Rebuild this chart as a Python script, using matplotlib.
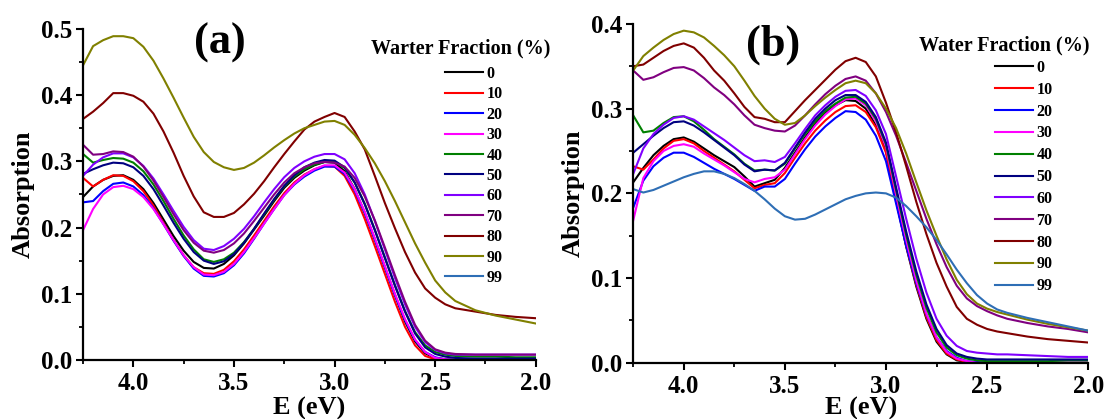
import matplotlib
matplotlib.use("Agg")
import matplotlib.pyplot as plt
from matplotlib.ticker import MultipleLocator, FormatStrFormatter

font = {'family': 'Liberation Serif',
        'weight': 'bold',
        'size': 18}
plt.rc('font', **font)

# photon energy (eV), shared by every curve
energy = [4.25, 4.20, 4.15, 4.10, 4.05, 4.00, 3.95, 3.90, 3.85, 3.80,
          3.75, 3.70, 3.65, 3.60, 3.55, 3.50, 3.45, 3.40, 3.35, 3.30,
          3.25, 3.20, 3.15, 3.10, 3.05, 3.00, 2.95, 2.90, 2.85, 2.80,
          2.75, 2.70, 2.65, 2.60, 2.55, 2.50, 2.45, 2.40,
          2.30, 2.20, 2.10, 2.00]

fractions = ['0', '10', '20', '30', '40', '50', '60', '70', '80', '90', '99']
colors = ['black', '#FF0000', '#0000FF', '#FF00FF', '#008000', '#000080',
          '#8000FF', '#800080', '#800000', '#808000', '#2E6EB5']

# ---- panel (a) ----
a_0 = [0.246, 0.262, 0.272, 0.278, 0.279, 0.272, 0.258, 0.237, 0.212, 0.187,
       0.165, 0.148, 0.139, 0.138, 0.145, 0.158, 0.176, 0.197, 0.218, 0.240,
       0.260, 0.275, 0.286, 0.294, 0.299, 0.298, 0.285, 0.258, 0.222, 0.182,
       0.140, 0.098, 0.058, 0.028, 0.010, 0.003, 0.001, 0.000,
       0.000, 0.000, 0.000, 0.000]
a_10 = [0.275, 0.262, 0.272, 0.279, 0.278, 0.270, 0.255, 0.233, 0.207, 0.181,
        0.158, 0.140, 0.131, 0.130, 0.136, 0.149, 0.167, 0.188, 0.210, 0.232,
        0.252, 0.268, 0.280, 0.288, 0.293, 0.292, 0.278, 0.250, 0.213, 0.172,
        0.130, 0.088, 0.050, 0.022, 0.006, 0.001, 0.000, 0.000,
        0.000, 0.000, 0.000, 0.000]
a_20 = [0.238, 0.240, 0.255, 0.266, 0.268, 0.262, 0.249, 0.229, 0.205, 0.180,
        0.157, 0.138, 0.127, 0.126, 0.131, 0.143, 0.161, 0.183, 0.206, 0.228,
        0.249, 0.265, 0.277, 0.286, 0.292, 0.292, 0.281, 0.256, 0.222, 0.182,
        0.140, 0.098, 0.060, 0.030, 0.012, 0.004, 0.001, 0.000,
        0.000, 0.000, 0.000, 0.000]
a_30 = [0.196, 0.228, 0.250, 0.261, 0.263, 0.258, 0.246, 0.228, 0.205, 0.181,
        0.158, 0.140, 0.129, 0.128, 0.133, 0.145, 0.163, 0.184, 0.206, 0.228,
        0.249, 0.266, 0.279, 0.288, 0.294, 0.294, 0.283, 0.258, 0.224, 0.184,
        0.142, 0.100, 0.062, 0.031, 0.012, 0.003, 0.001, 0.000,
        0.000, 0.000, 0.000, 0.000]
a_40 = [0.311, 0.298, 0.302, 0.305, 0.304, 0.298, 0.285, 0.265, 0.240, 0.213,
        0.188, 0.167, 0.152, 0.148, 0.152, 0.162, 0.178, 0.198, 0.220, 0.242,
        0.262, 0.277, 0.288, 0.295, 0.299, 0.299, 0.290, 0.268, 0.236, 0.197,
        0.155, 0.113, 0.074, 0.042, 0.022, 0.012, 0.008, 0.006,
        0.005, 0.005, 0.004, 0.004]
a_50 = [0.281, 0.288, 0.294, 0.298, 0.297, 0.291, 0.278, 0.258, 0.233, 0.207,
        0.183, 0.163, 0.150, 0.145, 0.149, 0.160, 0.177, 0.198, 0.221, 0.243,
        0.263, 0.279, 0.291, 0.298, 0.302, 0.301, 0.291, 0.268, 0.235, 0.196,
        0.154, 0.112, 0.073, 0.040, 0.019, 0.009, 0.005, 0.003,
        0.002, 0.002, 0.002, 0.002]
a_60 = [0.278, 0.295, 0.306, 0.312, 0.312, 0.306, 0.293, 0.274, 0.250, 0.225,
        0.201, 0.181, 0.168, 0.166, 0.172, 0.183, 0.198, 0.217, 0.238, 0.258,
        0.276, 0.290, 0.300, 0.307, 0.311, 0.311, 0.303, 0.282, 0.250, 0.210,
        0.167, 0.124, 0.084, 0.050, 0.027, 0.015, 0.010, 0.008,
        0.008, 0.008, 0.008, 0.008]
a_70 = [0.325, 0.310, 0.311, 0.315, 0.314, 0.307, 0.292, 0.271, 0.246, 0.220,
        0.196, 0.177, 0.165, 0.162, 0.166, 0.176, 0.191, 0.210, 0.230, 0.250,
        0.268, 0.282, 0.291, 0.297, 0.299, 0.298, 0.292, 0.275, 0.247, 0.211,
        0.170, 0.128, 0.088, 0.053, 0.029, 0.016, 0.011, 0.009,
        0.008, 0.008, 0.008, 0.008]
a_80 = [0.364, 0.375, 0.388, 0.403, 0.403, 0.399, 0.390, 0.372, 0.345, 0.313,
        0.278, 0.247, 0.223, 0.216, 0.216, 0.222, 0.235, 0.251, 0.270, 0.291,
        0.311, 0.330, 0.348, 0.360, 0.367, 0.373, 0.367, 0.345, 0.318, 0.278,
        0.237, 0.199, 0.163, 0.132, 0.108, 0.094, 0.084, 0.078,
        0.073, 0.068, 0.065, 0.063]
a_90 = [0.445, 0.474, 0.483, 0.489, 0.489, 0.486, 0.473, 0.452, 0.425, 0.396,
        0.366, 0.337, 0.314, 0.299, 0.291, 0.287, 0.290, 0.298, 0.309, 0.321,
        0.332, 0.342, 0.350, 0.355, 0.360, 0.361, 0.355, 0.340, 0.320, 0.297,
        0.270, 0.240, 0.208, 0.176, 0.147, 0.120, 0.102, 0.089,
        0.075, 0.067, 0.061, 0.055]
a_99 = []  # listed in the legend of (a) but no curve visible

# ---- panel (b) ----
b_0 = [0.213, 0.230, 0.245, 0.256, 0.264, 0.266, 0.261, 0.253, 0.245, 0.238,
       0.231, 0.220, 0.208, 0.212, 0.216, 0.230, 0.248, 0.266, 0.282, 0.295,
       0.304, 0.310, 0.309, 0.300, 0.280, 0.250, 0.192, 0.137, 0.090, 0.052,
       0.025, 0.010, 0.003, 0.001, 0.000, 0.000, 0.000, 0.000,
       0.000, 0.000, 0.000, 0.000]
b_10 = [0.232, 0.228, 0.240, 0.253, 0.262, 0.264, 0.259, 0.250, 0.242, 0.234,
        0.226, 0.216, 0.206, 0.210, 0.212, 0.224, 0.242, 0.259, 0.274, 0.286,
        0.296, 0.303, 0.304, 0.296, 0.278, 0.248, 0.192, 0.138, 0.092, 0.054,
        0.027, 0.011, 0.004, 0.001, 0.000, 0.000, 0.000, 0.000,
        0.000, 0.000, 0.000, 0.000]
b_20 = [0.183, 0.215, 0.232, 0.242, 0.248, 0.248, 0.243, 0.236, 0.229, 0.223,
        0.217, 0.210, 0.203, 0.208, 0.208, 0.217, 0.235, 0.252, 0.267, 0.279,
        0.289, 0.297, 0.296, 0.287, 0.268, 0.238, 0.188, 0.138, 0.094, 0.057,
        0.030, 0.014, 0.006, 0.002, 0.001, 0.000, 0.000, 0.000,
        0.000, 0.000, 0.000, 0.000]
b_30 = [0.168, 0.218, 0.238, 0.250, 0.256, 0.258, 0.255, 0.247, 0.240, 0.233,
        0.225, 0.217, 0.213, 0.217, 0.219, 0.228, 0.246, 0.264, 0.280, 0.293,
        0.303, 0.311, 0.312, 0.304, 0.285, 0.255, 0.199, 0.145, 0.097, 0.058,
        0.030, 0.013, 0.005, 0.002, 0.000, 0.000, 0.000, 0.000,
        0.000, 0.000, 0.000, 0.000]
b_40 = [0.292, 0.272, 0.274, 0.283, 0.290, 0.291, 0.285, 0.275, 0.264, 0.255,
        0.246, 0.235, 0.227, 0.228, 0.227, 0.235, 0.253, 0.270, 0.285, 0.297,
        0.306, 0.313, 0.314, 0.306, 0.288, 0.258, 0.204, 0.151, 0.104, 0.065,
        0.036, 0.018, 0.009, 0.005, 0.003, 0.002, 0.002, 0.002,
        0.002, 0.002, 0.003, 0.003]
b_50 = [0.248, 0.258, 0.268, 0.277, 0.284, 0.285, 0.280, 0.272, 0.263, 0.254,
        0.245, 0.234, 0.226, 0.228, 0.227, 0.236, 0.254, 0.272, 0.288, 0.300,
        0.310, 0.316, 0.316, 0.308, 0.290, 0.260, 0.207, 0.155, 0.108, 0.069,
        0.040, 0.021, 0.011, 0.007, 0.005, 0.004, 0.004, 0.004,
        0.004, 0.004, 0.004, 0.004]
b_60 = [0.223, 0.253, 0.270, 0.281, 0.289, 0.291, 0.287, 0.279, 0.271, 0.263,
        0.254, 0.245, 0.238, 0.239, 0.237, 0.243, 0.259, 0.276, 0.292, 0.304,
        0.314, 0.321, 0.322, 0.315, 0.298, 0.270, 0.220, 0.170, 0.123, 0.083,
        0.052, 0.032, 0.020, 0.014, 0.012, 0.011, 0.010, 0.010,
        0.009, 0.008, 0.007, 0.007]
b_70 = [0.345, 0.334, 0.337, 0.343, 0.348, 0.349, 0.345, 0.336, 0.325, 0.316,
        0.305, 0.292, 0.281, 0.277, 0.274, 0.273, 0.280, 0.292, 0.305, 0.317,
        0.327, 0.335, 0.338, 0.333, 0.318, 0.296, 0.268, 0.236, 0.203, 0.170,
        0.140, 0.113, 0.091, 0.076, 0.067, 0.061, 0.056, 0.052,
        0.047, 0.043, 0.040, 0.036]
b_80 = [0.350, 0.352, 0.360, 0.368, 0.374, 0.377, 0.372, 0.360, 0.345, 0.333,
        0.318, 0.302, 0.290, 0.288, 0.284, 0.284, 0.297, 0.310, 0.322, 0.334,
        0.346, 0.356, 0.360, 0.355, 0.338, 0.307, 0.272, 0.232, 0.190, 0.152,
        0.118, 0.090, 0.066, 0.052, 0.045, 0.040, 0.037, 0.035,
        0.031, 0.028, 0.026, 0.024]
b_90 = [0.345, 0.362, 0.372, 0.381, 0.388, 0.392, 0.390, 0.384, 0.374, 0.363,
        0.350, 0.333, 0.315, 0.300, 0.288, 0.281, 0.283, 0.292, 0.303, 0.313,
        0.322, 0.330, 0.333, 0.330, 0.318, 0.300, 0.277, 0.247, 0.213, 0.180,
        0.150, 0.122, 0.098, 0.081, 0.070, 0.064, 0.060, 0.057,
        0.051, 0.046, 0.042, 0.038]
b_99 = [0.205, 0.201, 0.204, 0.209, 0.214, 0.219, 0.223, 0.226, 0.226, 0.223,
        0.218, 0.211, 0.203, 0.193, 0.182, 0.173, 0.169, 0.170, 0.175, 0.181,
        0.187, 0.193, 0.197, 0.200, 0.201, 0.200, 0.195, 0.185, 0.173, 0.160,
        0.145, 0.128, 0.110, 0.094, 0.080, 0.070, 0.063, 0.059,
        0.053, 0.048, 0.043, 0.038]

series_a = [a_0, a_10, a_20, a_30, a_40, a_50, a_60, a_70, a_80, a_90, a_99]
series_b = [b_0, b_10, b_20, b_30, b_40, b_50, b_60, b_70, b_80, b_90, b_99]

fig = plt.figure(figsize=(11.07, 4.19), dpi=100)
ax1 = fig.add_axes([0.075, 0.141, 0.409, 0.790])
ax2 = fig.add_axes([0.572, 0.134, 0.411, 0.809])


def draw(ax, series, ymax, tag, tagpos, title, titlepos, legpos, spacing, xpad):
    for ys, c, lab in zip(series, colors, fractions):
        if len(ys) == 0:
            ax.plot([], [], color=c, linewidth=1.5, label=lab)
        else:
            ax.plot(energy, ys, color=c, linewidth=1.5, label=lab)
    ax.set_xlim(4.25, 2.0)
    ax.set_ylim(0, ymax)
    ax.xaxis.set_major_locator(MultipleLocator(0.5))
    ax.xaxis.set_minor_locator(MultipleLocator(0.25))
    ax.yaxis.set_major_locator(MultipleLocator(0.1))
    ax.yaxis.set_minor_locator(MultipleLocator(0.05))
    ax.xaxis.set_major_formatter(FormatStrFormatter('%.1f'))
    ax.yaxis.set_major_formatter(FormatStrFormatter('%.1f'))
    for s in ['top', 'right']:
        ax.spines[s].set_visible(False)
    for s in ['left', 'bottom']:
        ax.spines[s].set_linewidth(1.6)
    ax.tick_params(which='major', direction='out', length=5, width=1.5, labelsize=18)
    ax.tick_params(which='minor', direction='out', length=3, width=1.3)
    ax.tick_params(axis='x', pad=4)
    ax.tick_params(axis='y', pad=3)
    ax.set_xlabel("E (eV)", fontsize=19, fontweight='bold', labelpad=xpad)
    ax.set_ylabel("Absorption", fontsize=19, fontweight='bold', labelpad=4)
    ax.text(tagpos[0], tagpos[1], tag, fontsize=32, ha='center', va='center')
    fig.text(titlepos[0], titlepos[1], title, fontsize=14.5, fontweight='bold',
             ha='center', va='center')
    ax.legend(loc='upper left', bbox_to_anchor=legpos, bbox_transform=fig.transFigure,
              frameon=False, fontsize=11.5, handlelength=2.4, borderaxespad=0,
              handletextpad=0.2, labelspacing=spacing, borderpad=0)


draw(ax1, series_a, 0.5, '(a)', (3.57, 0.479), 'Warter Fraction (%)',
     (461 / 1107, 1 - 48 / 419), (445 / 1107, 1 - 66 / 419), 0.275, 1)
draw(ax2, series_b, 0.4, '(b)', (3.56, 0.375), 'Water Fraction (%)',
     (1004 / 1107, 1 - 45 / 419), (995 / 1107, 1 - 60 / 419), 0.365, -1)

fig.savefig("out.png", dpi=100)
